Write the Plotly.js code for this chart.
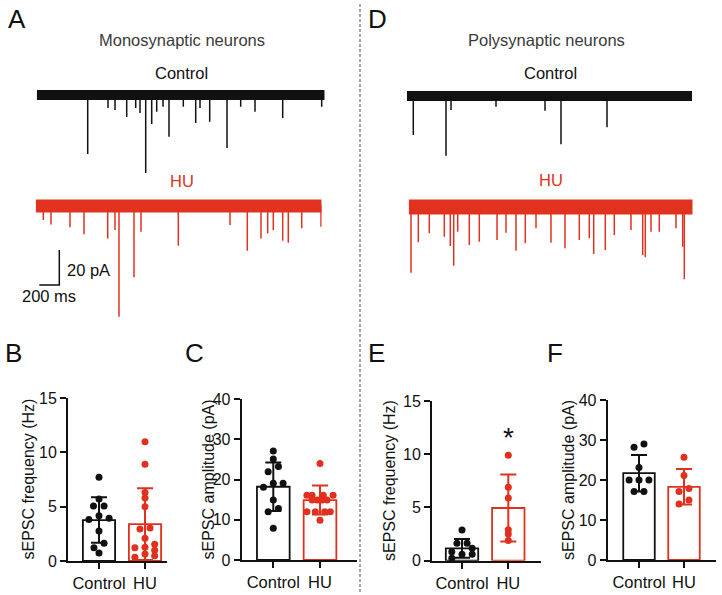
<!DOCTYPE html>
<html><head><meta charset="utf-8">
<script src="https://cdn.plot.ly/plotly-3.0.1.min.js"></script>
<style>html,body{margin:0;padding:0;background:#fff}#chart{width:722px;height:595px}</style>
</head><body><div id="chart"></div>
<script>
// ================= DATA =================
const groups = ['Control', 'HU'];

// Example recordings: spontaneous EPSC event times (ms) and amplitudes (pA, inward)
const monoCtrlT = [510,713,783,900,990,1033,1090,1150,1200,1263,1323,1466,1590,1633,1730,1903,2040,2183,2460,2850];
const monoCtrlA = [33.7,7.4,8.6,12.6,7.4,10.3,44.6,16.6,9.5,6.7,23.8,6.7,16,7.4,15.3,30.3,6.7,9.5,13.1,6.7];
const monoHuT = [76,153,343,483,720,793,833,983,1053,1426,1943,2116,2253,2320,2376,2470,2526,2660,2853];
const monoHuA = [8,10.5,12.2,16.2,18.5,13.7,63.3,40.7,14.7,22.7,10.9,25.5,18.5,15.6,13.7,19.8,21,12.7,11.8];
const polyCtrlT = [63,390,440,890,1380,1540,2000];
const polyCtrlA = [22.3,34.1,8,6.1,8.4,27.6,17.9];
const polyHuT = [23,96,206,356,416,450,490,606,706,883,973,1073,1166,1273,1423,1563,1706,1806,1850,1966,2056,2223,2340,2366,2423,2506,2673,2740,2756];
const polyHuA = [37.5,20.2,15,17,22.3,33.5,14.1,21.7,19.8,18.9,14.7,25,20.7,12.2,20.4,23.6,18.9,17.9,26.9,24.6,16,13.1,27.4,28.7,14.1,14.1,12.2,22.7,41.3];
const traceDurMs = [2880, 2860, 2850, 2840];   // mono ctrl, mono HU, poly ctrl, poly HU
const scaleBarMs = 200, scaleBarPA = 20;

// B: sEPSC frequency (Hz), monosynaptic
const freqMonoCtrl = [7.7,5.7,5.06,5.06,4.17,3.83,3.93,2.76,1.63,1.23,0.74];
const freqMonoCtrlJit = [0,0,-0.12,0.11,0,-0.22,0.22,0,0.11,-0.11,0];
const freqMonoHu = [10.98,8.9,6.3,5.8,5.0,2.94,3.04,2.1,1.22,1.26,1.53,1.0,0.64,0.34,0.49];
const freqMonoHuJit = [0,0,0,0,0,-0.11,0.11,0,-0.22,0,0.21,0.21,0,-0.22,0.21];
const freqMonoMean = [3.77, 3.4], freqMonoSD = [2.1, 3.3];

// C: sEPSC amplitude (pA), monosynaptic
const ampMonoCtrl = [27.1,25.1,23.2,21.9,18.06,19.05,19.05,14.9,12.8,12.0,7.9];
const ampMonoCtrlJit = [0,0,0.11,-0.11,-0.21,0,0.21,0,0.11,-0.11,0];
const ampMonoHu = [24,16.1,16.1,16.1,16.1,14.9,14.9,14.9,14.9,12,12,12,12,9.9];
const ampMonoHuJit = [0,-0.28,-0.17,0.07,0.28,-0.17,-0.06,0.05,0.15,-0.28,-0.1,0.1,0.22,0];
const ampMonoMean = [18.2, 14.9], ampMonoSD = [6.0, 3.6];

// E: sEPSC frequency (Hz), polysynaptic
const freqPolyCtrl = [2.88,1.63,1.63,1.16,0.85,0.6,0.6,0.22];
const freqPolyCtrlJit = [0,-0.11,0.11,0.22,-0.22,0,0.22,-0.22];
const freqPolyHu = [9.9,6.9,5.9,2.9,2.5,1.9];
const freqPolyHuJit = [0,0,0,0,0,0];
const freqPolyMean = [1.16, 4.95], freqPolySD = [0.88, 3.15];

// F: sEPSC amplitude (pA), polysynaptic
const ampPolyCtrl = [28.2,29.0,23.1,20,20,20,17.1,17.1];
const ampPolyCtrlJit = [-0.11,0.11,0,-0.22,0,0.22,-0.11,0.11];
const ampPolyHu = [25.7,21.1,17.1,17.9,14.0,15.0];
const ampPolyHuJit = [0,0,-0.11,0.11,-0.11,0.11];
const ampPolyMean = [21.7, 18.3], ampPolySD = [4.55, 4.45];

// ================= STYLE / LAYOUT =================
const W = 722, H = 595;
const BLACK = '#111111', RED = '#e2301f', TRACE_RED = '#e0321f';
const FONT = 'Arial, "Liberation Sans", sans-serif';
const PX_PER_PA = 1.75;
const xd = (a, b) => [a / W, b / W];
const yd = (top, bottom) => [1 - bottom / H, 1 - top / H];
const ax = n => (n === 1 ? '' : String(n));

const layout = {
  width: W, height: H, margin: {l: 0, r: 0, t: 0, b: 0},
  paper_bgcolor: '#fff', plot_bgcolor: 'rgba(0,0,0,0)',
  showlegend: false, font: {family: FONT, color: BLACK},
  annotations: [], shapes: []
};
const data = [];

function traceAxes(n, xl, dur, top, bottom, base) {
  layout['xaxis' + ax(n)] = {domain: xd(xl, xl + dur / 10), range: [0, dur], visible: false, fixedrange: true, anchor: 'y' + ax(n)};
  layout['yaxis' + ax(n)] = {domain: yd(top, bottom), range: [-(bottom - base) / PX_PER_PA, (base - top) / PX_PER_PA], visible: false, fixedrange: true, anchor: 'x' + ax(n)};
}
function recording(n, dur, times, amps, color, bandW) {
  data.push({type: 'scatter', mode: 'lines', x: [0, dur], y: [0, 0], xaxis: 'x' + ax(n), yaxis: 'y' + ax(n),
    line: {color: color, width: bandW}, hoverinfo: 'skip'});
  data.push({type: 'scatter', mode: 'markers', x: times, y: times.map(() => 0), xaxis: 'x' + ax(n), yaxis: 'y' + ax(n),
    marker: {size: 1, color: color},
    error_y: {type: 'data', symmetric: false, array: times.map(() => 0), arrayminus: amps.map(a => -(-a)), color: color, thickness: 1.5, width: 0},
    hoverinfo: 'skip'});
}

traceAxes(1, 36.7, traceDurMs[0], 82, 180, 95);
traceAxes(2, 35.7, traceDurMs[1], 190, 322, 206);
traceAxes(3, 407, traceDurMs[2], 82, 160, 96);
traceAxes(4, 408.7, traceDurMs[3], 190, 285, 207);
recording(1, traceDurMs[0], monoCtrlT, monoCtrlA, BLACK, 10);
recording(2, traceDurMs[1], monoHuT, monoHuA, TRACE_RED, 13);
recording(3, traceDurMs[2], polyCtrlT, polyCtrlA, BLACK, 10);
recording(4, traceDurMs[3], polyHuT, polyHuA, TRACE_RED, 15);

// scale bar (drawn in the mono HU recording axes, in data units)
const sbT0 = 36, sbY0 = -45.1;
data.push({type: 'scatter', mode: 'lines', xaxis: 'x2', yaxis: 'y2',
  x: [sbT0, sbT0 + scaleBarMs, sbT0 + scaleBarMs], y: [sbY0, sbY0, sbY0 + scaleBarPA],
  line: {color: BLACK, width: 1.5}, hoverinfo: 'skip'});

function barPanel(n, xl, xr, c0, ppu, top, bottom, ymax, dtick, vals, jits, means, sds) {
  layout['xaxis' + ax(n)] = {domain: xd(xl, xr), range: [(xl - c0) / ppu, (xr - c0) / ppu], anchor: 'y' + ax(n),
    tickvals: [0, 1], ticktext: groups, ticks: 'outside', ticklen: 6, tickwidth: 2, tickcolor: BLACK,
    showline: true, linewidth: 2, linecolor: BLACK, showgrid: false, zeroline: false, fixedrange: true,
    tickfont: {size: 16.5, family: FONT, color: BLACK}};
  const tv = []; for (let v = 0; v <= ymax; v += dtick) tv.push(v);
  layout['yaxis' + ax(n)] = {domain: yd(top, bottom), range: [0, ymax], anchor: 'x' + ax(n),
    tickvals: tv, ticks: 'outside', ticklen: 6, tickwidth: 2, tickcolor: BLACK,
    showline: true, linewidth: 2, linecolor: BLACK, showgrid: false, zeroline: false, fixedrange: true,
    tickfont: {size: 16, family: FONT, color: BLACK}};
  const cols = [BLACK, RED];
  for (let g = 0; g < 2; g++) {
    data.push({type: 'bar', x: [g], y: [means[g]], width: [0.7], xaxis: 'x' + ax(n), yaxis: 'y' + ax(n),
      marker: {color: '#ffffff', line: {color: cols[g], width: 1.8}},
      error_y: {type: 'data', array: [sds[g]], color: cols[g], thickness: 2, width: 8},
      hoverinfo: 'skip'});
  }
  for (let g = 0; g < 2; g++) {
    data.push({type: 'scatter', mode: 'markers', x: jits[g].map(j => g + j), y: vals[g], xaxis: 'x' + ax(n), yaxis: 'y' + ax(n),
      marker: {size: 7, color: cols[g]}, cliponaxis: false, hoverinfo: 'skip'});
  }
}
barPanel(5, 68, 167, 99, 46, 398, 561, 15, 5, [freqMonoCtrl, freqMonoHu], [freqMonoCtrlJit, freqMonoHuJit], freqMonoMean, freqMonoSD);
barPanel(6, 241.7, 356.7, 273.3, 46.7, 399, 560, 40, 10, [ampMonoCtrl, ampMonoHu], [ampMonoCtrlJit, ampMonoHuJit], ampMonoMean, ampMonoSD);
barPanel(7, 432, 541, 462, 46.3, 401, 560.7, 15, 5, [freqPolyCtrl, freqPolyHu], [freqPolyCtrlJit, freqPolyHuJit], freqPolyMean, freqPolySD);
barPanel(8, 607.7, 715.7, 639, 45, 400, 560, 40, 10, [ampPolyCtrl, ampPolyHu], [ampPolyCtrlJit, ampPolyHuJit], ampPolyMean, ampPolySD);

function ann(text, x, y, size, color, extra) {
  layout.annotations.push(Object.assign({text: text, x: x / W, y: 1 - y / H, xref: 'paper', yref: 'paper',
    showarrow: false, xanchor: 'center', yanchor: 'middle', font: {family: FONT, size: size, color: color}}, extra || {}));
}
// panel letters
ann('A', 17, 19, 26, BLACK); ann('D', 377, 19, 26, BLACK);
ann('B', 14, 353, 26, BLACK); ann('C', 194, 353, 26, BLACK);
ann('E', 376, 353, 26, BLACK); ann('F', 555, 353, 26, BLACK);
// headings
ann('Monosynaptic neurons', 181.7, 40, 16.5, '#3a3a3a');
ann('Polysynaptic neurons', 546, 40, 16.5, '#3a3a3a');
ann('Control', 181.7, 72.5, 16.5, BLACK); ann('HU', 181.7, 181, 16.5, TRACE_RED);
ann('Control', 550, 72.5, 16.5, BLACK); ann('HU', 551, 180, 16.5, TRACE_RED);
// scale bar labels
ann('20 pA', 64.5, 270, 16.5, BLACK, {xanchor: 'left'});
ann('200 ms', 48.8, 296, 16.5, BLACK);
// y titles
ann('sEPSC frequency (Hz)', 28, 479.5, 16, BLACK, {textangle: -90});
ann('sEPSC amplitude (pA)', 208, 479.5, 16, BLACK, {textangle: -90});
ann('sEPSC frequency (Hz)', 389, 481, 16, BLACK, {textangle: -90});
ann('sEPSC amplitude (pA)', 568, 480, 16, BLACK, {textangle: -90});
// significance
ann('*', 508, 437, 28, BLACK);

// dashed divider
layout.shapes.push({type: 'line', xref: 'paper', yref: 'paper', x0: 360 / W, x1: 360 / W, y0: 1 - 592 / H, y1: 1 - 4 / H,
  line: {color: '#8a8a8a', width: 1.5, dash: '3px,2px'}});

Plotly.newPlot('chart', data, layout, {staticPlot: true, displayModeBar: false});
</script></body></html>
